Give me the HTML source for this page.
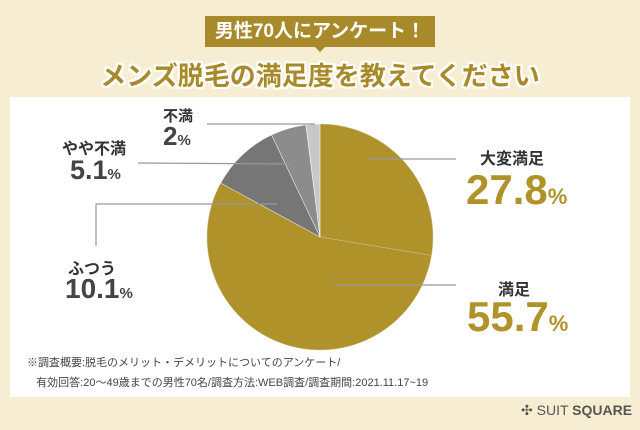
<!DOCTYPE html>
<html><head><meta charset="utf-8">
<style>
body{margin:0;width:640px;height:430px;background:#F6EDD2;overflow:hidden;font-family:"Liberation Sans","Noto Sans CJK JP",sans-serif;position:relative}
.a{position:absolute;white-space:nowrap}
.lab{font-size:16px;font-weight:bold;color:#333}
.num{font-weight:bold;color:#B0922A}
.gray{color:#444}
.pct{font-size:22px}
</style></head><body>
<div class="a" style="left:205px;top:16px;width:230px;height:31px;background:#A88A2A;color:#fff;font-size:19px;font-weight:bold;text-align:center;line-height:31px">男性70人にアンケート！</div>
<div class="a" style="left:314px;top:46px;width:0;height:0;border-left:6px solid transparent;border-right:6px solid transparent;border-top:6px solid #A88A2A"></div>
<div class="a" style="left:0;width:640px;top:56px;text-align:center;font-size:26px;font-weight:bold;color:#A88A2A;text-shadow:2px 0 #fff,-2px 0 #fff,0 2px #fff,0 -2px #fff,2px 2px #fff,-2px -2px #fff,2px -2px #fff,-2px 2px #fff">メンズ脱毛の満足度を教えてください</div>
<div class="a" style="left:10px;top:97px;width:620px;height:300px;background:#fff"></div>
<svg class="a" style="left:0;top:0" width="640" height="430">
<g id="pie"></g>
<g stroke="#999" stroke-width="1.2" fill="none">
<line x1="368" y1="159" x2="456" y2="159"/>
<line x1="333" y1="285" x2="456" y2="285"/>
<polyline points="277,204 96,204 96,246"/>
<line x1="290" y1="164" x2="138" y2="163"/>
<line x1="315" y1="124" x2="207" y2="124"/>
</g>
</svg>
<div class="a lab" style="left:480px;top:145px">大変満足</div>
<div class="a num" style="left:466px;top:166px;font-size:42px">27.8<span class="pct">%</span></div>
<div class="a lab" style="left:498px;top:276px">満足</div>
<div class="a num" style="left:467px;top:293px;font-size:42px">55.7<span class="pct">%</span></div>
<div class="a lab" style="left:163px;top:105px;font-size:15px">不満</div>
<div class="a num gray" style="left:163px;top:121px;font-size:26px">2<span style="font-size:15px">%</span></div>
<div class="a lab" style="left:62px;top:135px">やや不満</div>
<div class="a num gray" style="left:70px;top:155px;font-size:27px">5.1<span style="font-size:15px">%</span></div>
<div class="a lab" style="left:68px;top:255px">ふつう</div>
<div class="a num gray" style="left:65px;top:273px;font-size:28px">10.1<span style="font-size:15px">%</span></div>
<div class="a" style="left:27px;top:353px;font-size:11px;color:#444;line-height:20px">※調査概要:脱毛のメリット・デメリットについてのアンケート/<br>&nbsp;&nbsp;&nbsp;有効回答:20～49歳までの男性70名/調査方法:WEB調査/調査期間:2021.11.17~19</div>
<div class="a" style="left:521px;top:402px;font-size:14px;color:#555">✣ SUIT <b>SQUARE</b></div>
<script>
const categories=["大変満足","満足","ふつう","やや不満","不満"];
const values=[27.8,55.7,10.1,5.1,2];
const colors=["#B0922A","#B0922A","#767676","#8C8C8C","#C8C8C8"];
const cx=320,cy=237,r=113;
const total=values.reduce((a,b)=>a+b,0);
const g=document.getElementById('pie');
let a0=0;
function pt(a){return [cx+r*Math.sin(a),cy-r*Math.cos(a)];}
values.forEach((v,i)=>{
  const a1=a0+v/total*2*Math.PI;
  const p0=pt(a0),p1=pt(a1);
  const large=(a1-a0)>Math.PI?1:0;
  const p=document.createElementNS('http://www.w3.org/2000/svg','path');
  p.setAttribute('d',`M${cx},${cy}L${p0[0]},${p0[1]}A${r},${r} 0 ${large} 1 ${p1[0]},${p1[1]}Z`);
  p.setAttribute('fill',colors[i]);
  p.setAttribute('stroke',i<2?'#c9c9a0':'#fff');
  p.setAttribute('stroke-width','0.5');
  
  
  g.appendChild(p);
  a0=a1;
});
</script>
</body></html>
